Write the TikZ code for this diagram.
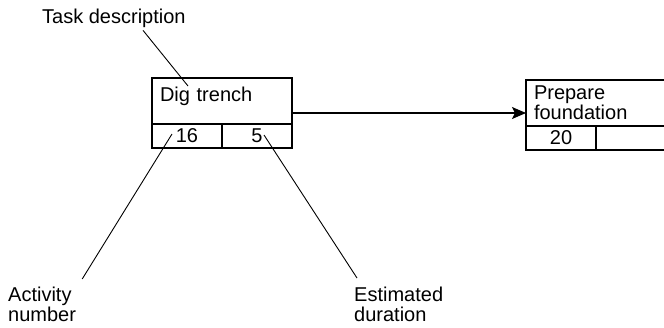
\documentclass[tikz,border=0pt]{standalone}
\usepackage{fontspec}
\setmainfont{Liberation Sans}
\usetikzlibrary{positioning, arrows.meta, calc}

\begin{document}
\begin{tikzpicture}[
    x=1pt, y=-1pt,
    every node/.style={font=\fontsize{20}{20}\selectfont},
    task/.style={draw, rectangle, line width=1.2pt, outer sep=0pt, minimum width=140pt, minimum height=46pt, text width=124pt, inner xsep=8pt, inner ysep=0pt, align=left},
    cell/.style={draw, rectangle, line width=1.2pt, outer sep=0pt, minimum width=70pt, minimum height=24pt, inner sep=0pt},
    note/.style={inner sep=0pt, align=left},
    leader/.style={line width=0.9pt},
    arrow/.style={-{Stealth[length=14pt, width=12pt, inset=3pt]}, line width=1.2pt}
]
    \useasboundingbox (0,0) rectangle (664,327);
    \clip (0,0) rectangle (664,327);

    % Activite 16
    \node[task, text height=8pt, text depth=8pt] (dig) at (222,101) {Dig trench};
    \node[cell, anchor=north west] (dignum) at (dig.south west) {16};
    \node[cell, anchor=north west] (digdur) at (dignum.north east) {5};

    % Activite 20
    \node[task, font=\fontsize{20}{17}\selectfont] (prep) at (596,103) {Prepare\\foundation};
    \node[cell, anchor=north west] (prepnum) at (prep.south west) {20};
    \node[cell, anchor=north west] (prepdur) at (prepnum.north east) {};

    % Lien
    \draw[arrow] ([yshift=-12pt]dig.east) -- ([yshift=-12pt]dig.east -| prep.west);

    % Legendes
    \node[note, anchor=base west] (taskdesc) at (42,23) {Task description};
    \node[note, anchor=north west] (actnum) at (8,287) {Activity\\number};
    \node[note, anchor=north west] (estdur) at (354,287) {Estimated\\duration};

    \coordinate (descpt) at (188,86);
    \coordinate (numpt) at (172,134);
    \coordinate (durpt) at (264,135);

    \draw[leader] ([shift={(101pt,-3pt)}]taskdesc.south west) -- (descpt);
    \draw[leader] ([shift={(6pt,8pt)}]actnum.north east) -- (numpt);
    \draw[leader] ([shift={(3pt,9pt)}]estdur.north west) -- (durpt);
\end{tikzpicture}
\end{document}
